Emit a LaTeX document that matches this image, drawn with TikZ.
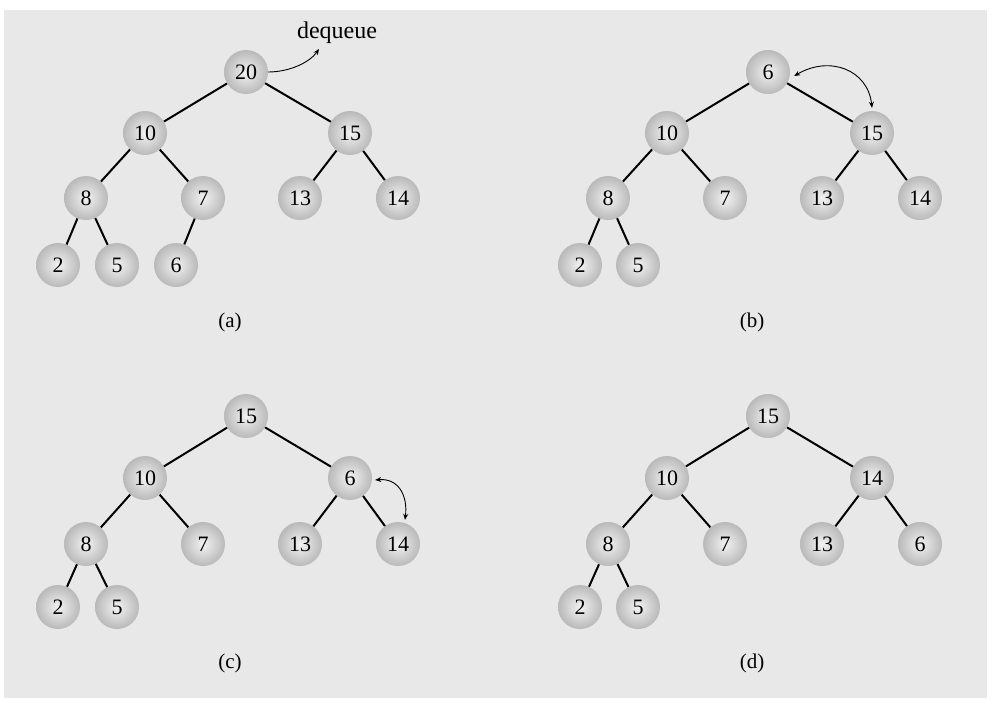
\documentclass[tikz,border=0pt]{standalone}
\usepackage{fontspec}
\setmainfont{Liberation Serif}
\usetikzlibrary{arrows.meta}
\begin{document}
\begin{tikzpicture}[x=1pt,y=-1pt,
  ball/.style={circle,minimum size=44pt,inner sep=0pt,inner color=gray!10,outer color=gray!55,font=\fontsize{22}{22}\selectfont},
  edge/.style={line width=2pt},
  lbl/.style={font=\fontsize{21}{21}\selectfont},
  swap/.style={line width=0.9pt,{Stealth[length=6pt,width=5pt]}-{Stealth[length=6pt,width=5pt]}}]
\useasboundingbox (0,0) rectangle (993,715);
\fill[gray!18] (4,10) rectangle (987,698);
% ---------- (a)
\node[ball] (a1) at (246,72) {20};
\node[ball] (a2) at (145,133) {10};
\node[ball] (a3) at (350,133) {15};
\node[ball] (a4) at (86,198) {8};
\node[ball] (a5) at (203,198) {7};
\node[ball] (a6) at (300,198) {13};
\node[ball] (a7) at (398,198) {14};
\node[ball] (a8) at (58,265) {2};
\node[ball] (a9) at (117,265) {5};
\node[ball] (a10) at (176,265) {6};
\node[lbl] (la) at (230,322) {(a)};
\node[font=\fontsize{24}{24}\selectfont] (dq) at (337,33) {dequeue};
% ---------- (b)
\node[ball] (b1) at (768,72) {6};
\node[ball] (b2) at (667,133) {10};
\node[ball] (b3) at (872,133) {15};
\node[ball] (b4) at (608,198) {8};
\node[ball] (b5) at (725,198) {7};
\node[ball] (b6) at (822,198) {13};
\node[ball] (b7) at (920,198) {14};
\node[ball] (b8) at (580,265) {2};
\node[ball] (b9) at (638,265) {5};
\node[lbl] (lb) at (752,322) {(b)};
% ---------- (c)
\node[ball] (c1) at (246,416) {15};
\node[ball] (c2) at (145,478) {10};
\node[ball] (c3) at (350,478) {6};
\node[ball] (c4) at (86,544) {8};
\node[ball] (c5) at (203,544) {7};
\node[ball] (c6) at (300,544) {13};
\node[ball] (c7) at (398,544) {14};
\node[ball] (c8) at (58,607) {2};
\node[ball] (c9) at (117,607) {5};
\node[lbl] (lc) at (230,663) {(c)};
% ---------- (d)
\node[ball] (d1) at (768,416) {15};
\node[ball] (d2) at (667,478) {10};
\node[ball] (d3) at (872,478) {14};
\node[ball] (d4) at (608,544) {8};
\node[ball] (d5) at (725,544) {7};
\node[ball] (d6) at (822,544) {13};
\node[ball] (d7) at (920,544) {6};
\node[ball] (d8) at (580,607) {2};
\node[ball] (d9) at (638,607) {5};
\node[lbl] (ld) at (752,663) {(d)};
% edges
\foreach \p in {a,b,c,d}{
  \draw[edge] (\p1) -- (\p2);
  \draw[edge] (\p1) -- (\p3);
  \draw[edge] (\p2) -- (\p4);
  \draw[edge] (\p2) -- (\p5);
  \draw[edge] (\p3) -- (\p6);
  \draw[edge] (\p3) -- (\p7);
  \draw[edge] (\p4) -- (\p8);
  \draw[edge] (\p4) -- (\p9);
}
\draw[edge] (a5) -- (a10);
% arrows
\draw[line width=0.9pt,-{Stealth[length=6pt,width=5pt]}] (a1.east) .. controls (290,72) and (310,62) .. (319,49);
\draw[swap] ([xshift=4pt,yshift=-4pt]b1.east) .. controls (830,55) and (868,70) .. ([yshift=3pt]b3.north);
\draw[swap] ([xshift=3pt,yshift=-2pt]c3.east) .. controls (398,478) and (408,495) .. ([xshift=7pt,yshift=2pt]c7.north);
\end{tikzpicture}
\end{document}
